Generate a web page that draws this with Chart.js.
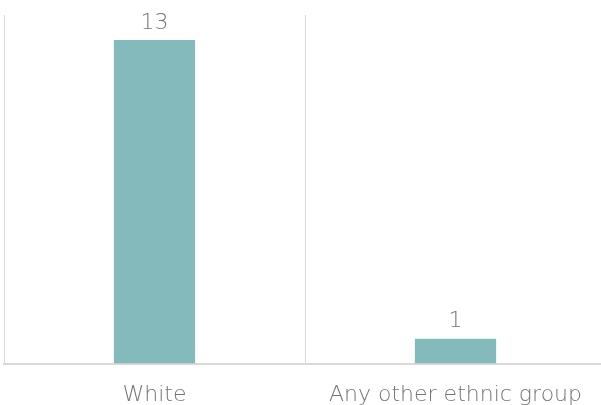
<!DOCTYPE html>
<html>
<head>
<meta charset="utf-8">
<script src="https://cdn.jsdelivr.net/npm/chart.js@4/dist/chart.umd.min.js"></script>
<style>
  html, body { margin: 0; padding: 0; background: #fff; overflow: hidden; }
  #wrap { width: 610px; height: 405px; }
</style>
</head>
<body>
<div id="wrap"><canvas id="ethnicChart" width="610" height="405"></canvas></div>
<script>
const categories = ["White", "Any other ethnic group"];
const counts = [13, 1];
const barColor = "#85babd";
const textColor = "#757575";
const fontFamily = "'DejaVu Sans', sans-serif";

// value labels above each bar
const valueLabels = {
  id: 'valueLabels',
  afterDatasetsDraw(chart) {
    const ctx = chart.ctx;
    const meta = chart.getDatasetMeta(0);
    ctx.save();
    ctx.fillStyle = textColor;
    ctx.font = `200 22px ${fontFamily}`;
    ctx.textAlign = 'center';
    ctx.textBaseline = 'bottom';
    meta.data.forEach((bar, i) => {
      ctx.fillText(String(chart.data.datasets[0].data[i]), bar.x, bar.y - 6);
    });
    ctx.restore();
  }
};

const ctx = document.getElementById('ethnicChart').getContext('2d');
new Chart(ctx, {
  type: 'bar',
  data: {
    labels: categories,
    datasets: [{
      data: counts,
      backgroundColor: barColor,
      barPercentage: 0.27,
      categoryPercentage: 1
    }]
  },
  options: {
    responsive: false,
    animation: false,
    layout: { padding: { top: 15, left: 4, right: 4, bottom: -21 } },
    plugins: {
      legend: { display: false },
      tooltip: { enabled: false }
    },
    scales: {
      x: {
        grid: {
          // no line after the last category
          color: c => (c.tick ? '#d9d9d9' : 'rgba(0,0,0,0)'),
          lineWidth: 1, drawTicks: false, offset: true
        },
        border: { color: '#d9d9d9', width: 2 },
        ticks: { color: textColor, padding: 18, font: { family: fontFamily, size: 22, weight: 200 } }
      },
      y: {
        display: false,
        min: 0,
        max: 14
      }
    }
  },
  plugins: [valueLabels]
});
</script>
</body>
</html>
